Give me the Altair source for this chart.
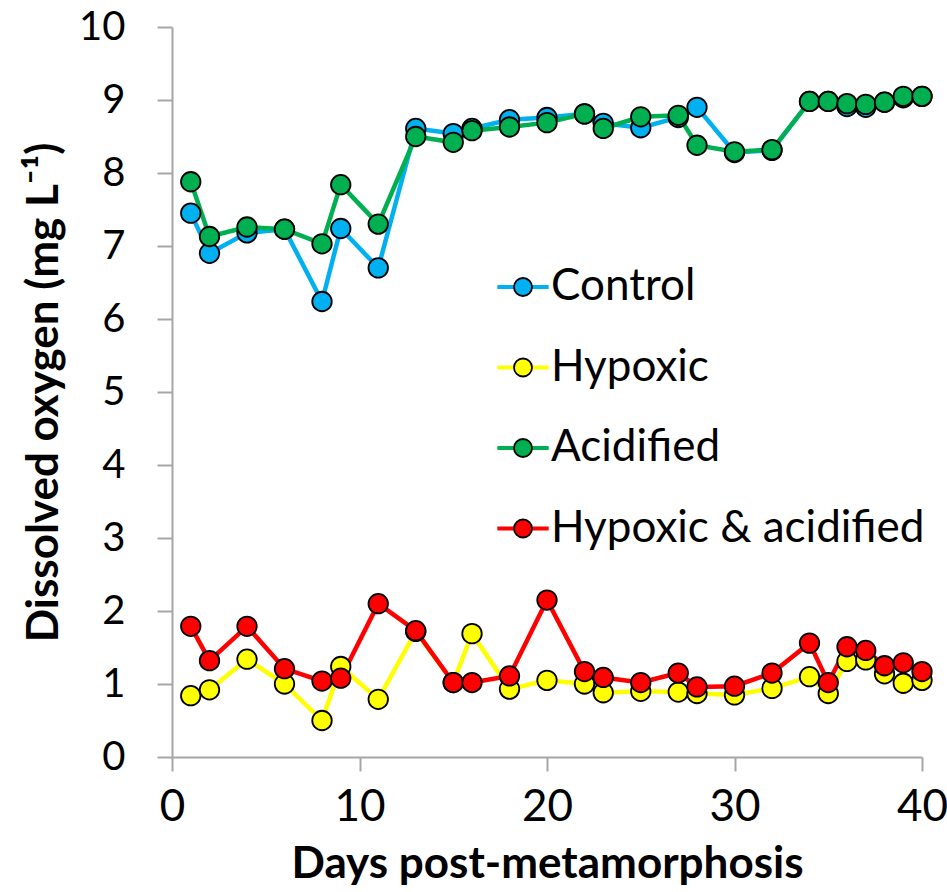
import altair as alt
import pandas as pd

days = [1, 2, 4, 6, 8, 9, 11, 13, 15, 16, 18, 20, 22, 23, 25, 27, 28, 30, 32, 34, 35, 36, 37, 38, 39, 40]

control = [7.45, 6.90, 7.18, 7.23, 6.24, 7.24, 6.70, 8.61, 8.54, 8.61, 8.73, 8.76, 8.81, 8.68, 8.62, 8.76, 8.90,
           8.28, 8.31, 8.98, 8.98, 8.91, 8.90, 8.97, 9.03, 9.05]
hypoxic = [0.84, 0.92, 1.34, 1.00, 0.50, 1.24, 0.79, 1.72, 1.02, 1.69, 0.93, 1.05, 1.00, 0.88, 0.90, 0.89, 0.87,
           0.85, 0.94, 1.10, 0.87, 1.31, 1.33, 1.14, 1.01, 1.05]
acidified = [7.88, 7.13, 7.26, 7.23, 7.03, 7.84, 7.30, 8.50, 8.42, 8.58, 8.63, 8.69, 8.81, 8.61, 8.77, 8.79, 8.38,
             8.29, 8.32, 8.98, 8.98, 8.95, 8.94, 8.97, 9.05, 9.05]
hyp_acid = [1.79, 1.32, 1.79, 1.21, 1.04, 1.08, 2.10, 1.73, 1.02, 1.02, 1.11, 2.15, 1.17, 1.09, 1.02, 1.15, 0.96,
            0.97, 1.15, 1.56, 1.02, 1.51, 1.46, 1.25, 1.29, 1.17]

series_names = ["Control", "Hypoxic", "Acidified", "Hypoxic & acidified"]
series_colors = ["#00B0F0", "#FFFF00", "#00B050", "#FF0000"]
series_values = [control, hypoxic, acidified, hyp_acid]

rows = []
for order, (name, vals) in enumerate(zip(series_names, series_values)):
    for d, v in zip(days, vals):
        rows.append({"series": name, "marker": name, "day": d, "do": v, "order": order})
df = pd.DataFrame(rows)

x = alt.X("day:Q", scale=alt.Scale(domain=[0, 40], nice=False),
          axis=alt.Axis(values=[0, 10, 20, 30, 40], title="Days post-metamorphosis"))
y = alt.Y("do:Q", scale=alt.Scale(domain=[0, 10], nice=False),
          axis=alt.Axis(values=list(range(0, 11)), title="Dissolved oxygen (mg L⁻¹)"))

LEG_LABEL = 44
ROW_PAD = 36.5
LEG_X = 329
LEG_Y = 238
SYM = 324

lines = alt.Chart(df).mark_line(strokeWidth=4.5).encode(
    x=x, y=y,
    color=alt.Color("series:N", scale=alt.Scale(domain=series_names, range=series_colors),
                    legend=alt.Legend(orient="none", legendX=LEG_X, legendY=LEG_Y, title=None,
                                      symbolType="M-2.85,0H2.85", symbolSize=SYM, symbolStrokeWidth=4,
                                      labelFontSize=LEG_LABEL, labelFont="Lato", labelColor="black",
                                      labelOffset=6, rowPadding=ROW_PAD, labelLimit=0, symbolLimit=0)),
    order="order:Q",
    detail="series:N",
)

points = alt.Chart(df).mark_circle(size=380, stroke="black", strokeWidth=1.8, opacity=1).encode(
    x=x, y=y,
    fill=alt.Fill("marker:N", scale=alt.Scale(domain=series_names, range=series_colors),
                  legend=alt.Legend(orient="none", legendX=LEG_X, legendY=LEG_Y, title=None,
                                    symbolType="circle", symbolSize=SYM, symbolStrokeColor="black",
                                    symbolStrokeWidth=1.8, symbolOpacity=1,
                                    labelFontSize=LEG_LABEL, labelFont="Lato", labelColor="transparent",
                                    labelOffset=6, rowPadding=ROW_PAD, labelLimit=0)),
    order="order:Q",
)

chart = alt.layer(lines, points).resolve_legend(color="independent", fill="independent").properties(
    width=750, height=730,
    autosize=alt.AutoSizeParams(type="none"),
    padding={"left": 172, "top": 27, "right": 25, "bottom": 135},
).configure_view(stroke=None).configure_axis(
    grid=False,
    domainColor="#A6A6A6", domainWidth=2,
    tickColor="#A6A6A6", tickWidth=2,
    labelColor="black", titleColor="black",
).configure_axisY(
    tickSize=15, labelFont="Lato", labelFontSize=40, labelPadding=32,
    titleFont="Lato", titleFontSize=44, titleFontWeight="bold",
    titleX=-128, titleBaseline="middle", titleAngle=270,
).configure_axisX(
    tickSize=14, labelFont="Lato", labelFontSize=44, labelPadding=14,
    titleFont="Lato", titleFontSize=44, titleFontWeight="bold",
    titleY=107, titleBaseline="middle", labelFlush=False, labelOverlap=False,
)

chart.save("out.html", embed_options={"renderer": "svg", "actions": False})
